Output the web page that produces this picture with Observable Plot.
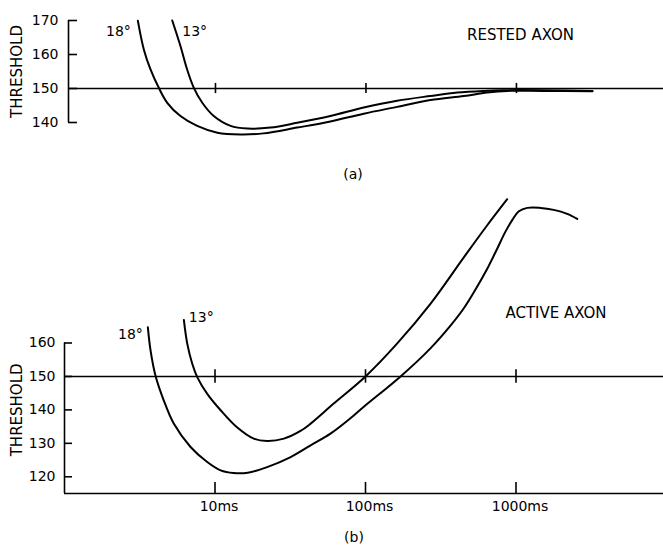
<!DOCTYPE html>
<html>
<head>
<meta charset="utf-8">
<script src="https://cdn.jsdelivr.net/npm/d3@7"></script>
<script src="https://cdn.jsdelivr.net/npm/@observablehq/plot@0.6"></script>
<style>
  html, body { margin: 0; padding: 0; background: #fff; }
  #chart { width: 663px; }
  #chart svg { display: block; }
</style>
</head>
<body>
<div id="chart"></div>
<script>
// ---------- data ----------
const xTickValues = [10, 100, 1000];          // ms
const restedTicks = [140, 150, 160, 170];
const activeTicks = [120, 130, 140, 150, 160];
const baseline = 150;

// Rested axon (panel a): [time ms, threshold]
const rested18 = [[3.05,169.9],[3.34,161.5],[3.70,155.6],[4.20,150.2],[4.78,145.8],[5.85,141.9],[7.56,139.0],[10.3,137.0],[14.7,136.5],[20.8,136.8],[34.9,138.5],[58,140.3],[96.6,142.6],[161,144.6],[268,146.6],[447,147.8],[638,148.8],[867,149.3],[1500,149.3],[3200,149.2]];
const rested13 = [[5.16,170],[5.85,162.5],[6.48,155.6],[7.18,150.2],[8.17,145.8],[9.74,141.9],[12.6,139.0],[16.3,138.2],[23.2,138.5],[34.9,139.9],[58,141.9],[96.6,144.4],[161,146.4],[268,147.8],[404,148.8],[604,149.3],[820,149.5],[1500,149.5],[3200,149.3]];

// Active axon (panel b)
const active18 = [[3.58,164.7],[3.73,157.8],[4.02,150.3],[4.57,142.8],[5.32,135.9],[6.88,128.9],[8.88,124.4],[10.9,121.9],[13.3,121.1],[16.5,121.2],[22.2,122.9],[31.8,125.9],[43.2,129.4],[58.5,132.9],[79.4,137.5],[96.6,140.8],[171,150.0],[270,158.4],[367,165.2],[450,170.4],[538,176.0],[644,182.2],[750,188.2],[851,193.3],[948,196.9],[1040,199.3],[1187,200.4],[1455,200.4],[1782,199.8],[2188,198.6],[2552,197.1]];
const active13 = [[6.21,166.9],[6.54,159.8],[7.06,153.8],[7.62,149.8],[8.88,144.8],[10.9,139.9],[14.0,134.8],[18.1,131.4],[22.2,130.7],[28.7,131.4],[37,133.7],[43.2,135.9],[61.5,141.9],[100,150],[162,159.8],[270,171.7],[450,185.6],[644,195.2],[874,203.0]];

const seriesLabels = ["18°", "13°"];
const panelTitles = ["RESTED AXON", "ACTIVE AXON"];
const panelTags = ["(a)", "(b)"];
const yTitle = "THRESHOLD";

// ---------- helpers ----------
const W = 663;
const FONT = "DejaVu Sans";
const rows = (arr, label) => arr.map(([ms, v]) => ({ms, v, label}));
const curveOpts = {x: "ms", y: "v", curve: "catmull-rom", stroke: "black", strokeWidth: 2};
const axisW = 1.6;

// ---------- panel (a) ----------
const xA = [1.055, 9490];
const yA = [130, 175];
const mlA = 68;
const panelA = Plot.plot({
  width: W, height: 190,
  marginLeft: mlA, marginRight: 0, marginTop: 3, marginBottom: 34,
  style: {fontFamily: FONT, fontSize: "14px", background: "white", color: "black"},
  x: {type: "log", domain: xA, axis: null},
  y: {domain: yA, axis: null},
  marks: [
    Plot.ruleX([xA[0]], {y1: d3.min(restedTicks), y2: d3.max(restedTicks), strokeWidth: axisW}),
    Plot.tickY(restedTicks, {y: d => d, insetRight: W - mlA - 9, strokeWidth: axisW}),
    Plot.axisY(restedTicks, {tickSize: 0, tickPadding: 10, fontSize: 14, label: null}),
    Plot.ruleY([baseline], {strokeWidth: axisW}),
    Plot.ruleX(xTickValues, {y1: baseline - 1.5, y2: baseline + 1.5, strokeWidth: axisW}),
    Plot.line(rows(rested18, seriesLabels[0]), curveOpts),
    Plot.line(rows(rested13, seriesLabels[1]), curveOpts),
    Plot.text([rested18[0]], {x: d => d[0], y: d => d[1], text: () => seriesLabels[0], textAnchor: "end", dx: -7, dy: 10.5, fontSize: 14}),
    Plot.text([rested13[0]], {x: d => d[0], y: d => d[1], text: () => seriesLabels[1], textAnchor: "start", dx: 10, dy: 11.5, fontSize: 14}),
    Plot.text([yTitle], {frameAnchor: "left", y: () => d3.mean(d3.extent(restedTicks)), text: d => d, rotate: -90, textAnchor: "middle", lineAnchor: "middle", dx: -51, fontSize: 15}),
    Plot.text([panelTitles[0]], {frameAnchor: "top", text: d => d, dx: 154.5, dy: 26, fontSize: 15}),
    Plot.text([panelTags[0]], {frameAnchor: "bottom", text: d => d, dx: -13, dy: 22, fontSize: 14})
  ]
});

// ---------- panel (b) ----------
const xB = [1, 9550];
const yB = [115, 205];
const mlB = 64;
const panelB = Plot.plot({
  width: W, height: 364,
  marginLeft: mlB, marginRight: 0, marginTop: 2, marginBottom: 61,
  style: {fontFamily: FONT, fontSize: "14px", background: "white", color: "black"},
  x: {type: "log", domain: xB, axis: null},
  y: {domain: yB, axis: null},
  marks: [
    Plot.ruleX([xB[0]], {y1: yB[0], y2: d3.max(activeTicks), strokeWidth: axisW}),
    Plot.tickY(activeTicks, {y: d => d, insetRight: W - mlB - 8, strokeWidth: axisW}),
    Plot.axisY(activeTicks, {tickSize: 0, tickPadding: 9, fontSize: 14, label: null}),
    Plot.ruleY([yB[0]], {strokeWidth: axisW}),
    Plot.ruleX(xTickValues, {y1: yB[0], y2: yB[0] + 3.3, strokeWidth: axisW}),
    Plot.axisX(xTickValues, {tickSize: 0, tickPadding: 8, tickFormat: d => `${d}ms`, fontSize: 14, dx: 4, label: null}),
    Plot.ruleY([baseline], {strokeWidth: axisW}),
    Plot.ruleX(xTickValues, {y1: baseline - 2, y2: baseline + 2, strokeWidth: axisW}),
    Plot.line(rows(active18, seriesLabels[0]), curveOpts),
    Plot.line(rows(active13, seriesLabels[1]), curveOpts),
    Plot.text([active18[0]], {x: d => d[0], y: d => d[1], text: () => seriesLabels[0], textAnchor: "end", dx: -5, dy: 7, fontSize: 14}),
    Plot.text([active13[0]], {x: d => d[0], y: d => d[1], text: () => seriesLabels[1], textAnchor: "start", dx: 5, dy: -2, fontSize: 14}),
    Plot.text([yTitle], {frameAnchor: "left", y: () => d3.mean(d3.extent(activeTicks)), text: d => d, rotate: -90, textAnchor: "middle", lineAnchor: "middle", dx: -47, fontSize: 15}),
    Plot.text([panelTitles[1]], {frameAnchor: "top", text: d => d, dx: 192, dy: 115, fontSize: 15}),
    Plot.text([panelTags[1]], {frameAnchor: "bottom", text: d => d, dx: -10, dy: 48, fontSize: 14})
  ]
});

const chart = document.getElementById("chart");
chart.append(panelA, panelB);
</script>
</body>
</html>
